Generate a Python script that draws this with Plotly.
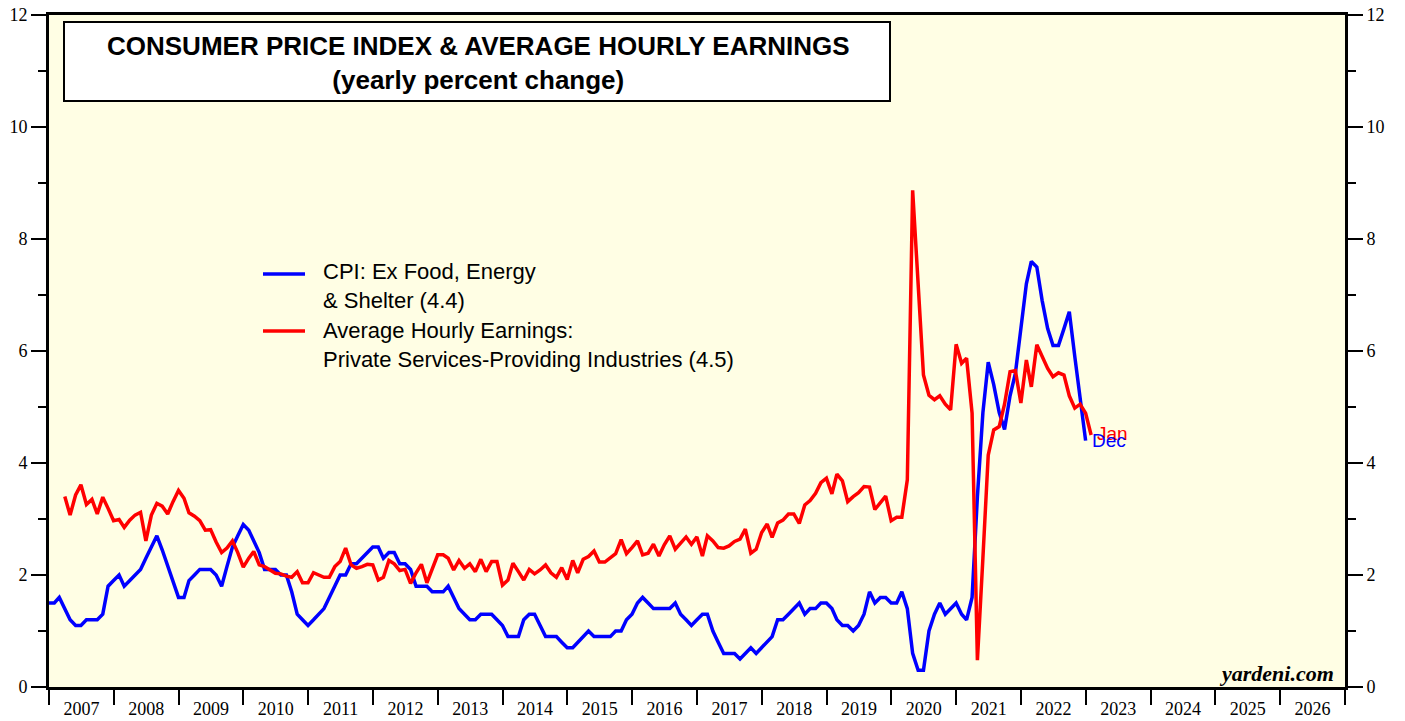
import pandas as pd
import plotly.graph_objects as go

# ---------------- data (yearly % change, monthly) ----------------
years = list(range(2007, 2027))

cpi_first_month = "2006-12"   # CPI: Ex Food, Energy & Shelter
cpi_ex_fes = [
    1.5, 1.5, 1.6, 1.4, 1.2, 1.1, 1.1, 1.2, 1.2, 1.2, 1.3, 1.8,
    1.9, 2.0, 1.8, 1.9, 2.0, 2.1, 2.3, 2.5, 2.7, 2.45, 2.15, 1.88,
    1.6, 1.6, 1.9, 2.0, 2.1, 2.1, 2.1, 2.0, 1.8, 2.15, 2.5, 2.7,
    2.9, 2.8, 2.6, 2.4, 2.1, 2.1, 2.1, 2.0, 2.0, 1.7, 1.3, 1.2,
    1.1, 1.2, 1.3, 1.4, 1.6, 1.8, 2.0, 2.0, 2.2, 2.2, 2.3, 2.4,
    2.5, 2.5, 2.3, 2.4, 2.4, 2.2, 2.2, 2.1, 1.8, 1.8, 1.8, 1.7,
    1.7, 1.7, 1.8, 1.6, 1.4, 1.3, 1.2, 1.2, 1.3, 1.3, 1.3, 1.2,
    1.1, 0.9, 0.9, 0.9, 1.2, 1.3, 1.3, 1.1, 0.9, 0.9, 0.9, 0.8,
    0.7, 0.7, 0.8, 0.9, 1.0, 0.9, 0.9, 0.9, 0.9, 1.0, 1.0, 1.2,
    1.3, 1.5, 1.6, 1.5, 1.4, 1.4, 1.4, 1.4, 1.5, 1.3, 1.2, 1.1,
    1.2, 1.3, 1.3, 1.0, 0.8, 0.6, 0.6, 0.6, 0.5, 0.6, 0.7, 0.6,
    0.7, 0.8, 0.9, 1.2, 1.2, 1.3, 1.4, 1.5, 1.3, 1.4, 1.4, 1.5,
    1.5, 1.4, 1.2, 1.1, 1.1, 1.0, 1.1, 1.3, 1.7, 1.5, 1.6, 1.6,
    1.5, 1.5, 1.7, 1.4, 0.6, 0.3, 0.3, 1.0, 1.3, 1.5, 1.3, 1.4,
    1.5, 1.3, 1.2, 1.6, 3.4, 4.9, 5.8, 5.4, 4.9, 4.6, 5.2, 5.6,
    6.4, 7.2, 7.6, 7.5, 6.9, 6.4, 6.1, 6.1, 6.4, 6.7, 5.9, 5.1,
    4.4,
]

ahe_first_month = "2007-03"   # Average Hourly Earnings: Private Services-Providing
ahe_services = [
    3.40, 3.07, 3.43, 3.61, 3.26, 3.35, 3.09, 3.39, 3.19,
    2.97, 2.99, 2.85, 2.98, 3.07, 3.12, 2.61, 3.07, 3.28, 3.23, 3.09, 3.31,
    3.51, 3.37, 3.11, 3.05, 2.97, 2.80, 2.81, 2.59, 2.40, 2.48, 2.61, 2.40,
    2.14, 2.30, 2.42, 2.18, 2.15, 2.09, 2.03, 2.02, 1.98, 1.96, 2.06, 1.86,
    1.86, 2.04, 2.00, 1.96, 1.96, 2.15, 2.24, 2.48, 2.18, 2.12, 2.15, 2.19,
    2.18, 1.91, 1.96, 2.26, 2.20, 2.08, 2.10, 1.85, 2.04, 2.19, 1.86, 2.09,
    2.36, 2.36, 2.30, 2.09, 2.26, 2.12, 2.20, 2.06, 2.28, 2.06, 2.24, 2.24,
    1.82, 1.91, 2.21, 2.06, 1.91, 2.10, 2.02, 2.09, 2.18, 2.04, 1.96, 2.13,
    1.92, 2.26, 2.04, 2.28, 2.33, 2.43, 2.23, 2.23, 2.30, 2.38, 2.63, 2.38,
    2.49, 2.61, 2.36, 2.39, 2.55, 2.34, 2.54, 2.70, 2.46, 2.58, 2.68, 2.55,
    2.68, 2.34, 2.70, 2.61, 2.49, 2.48, 2.52, 2.60, 2.64, 2.82, 2.39, 2.46,
    2.76, 2.91, 2.67, 2.93, 2.98, 3.09, 3.09, 2.92, 3.25, 3.33, 3.46, 3.65,
    3.73, 3.45, 3.80, 3.68, 3.31, 3.40, 3.47, 3.58, 3.57, 3.17, 3.29, 3.41,
    2.97, 3.03, 3.03, 3.70, 8.87, 7.09, 5.57, 5.21, 5.13, 5.20, 5.05, 4.95,
    6.12, 5.78, 5.87, 4.89, 0.48, 2.30, 4.14, 4.59, 4.65, 5.05, 5.63, 5.65,
    5.07, 5.84, 5.36, 6.11, 5.90, 5.69, 5.54, 5.61, 5.57, 5.20, 4.98, 5.05,
    4.89, 4.50,
]

cpi_last_label = "Dec"
ahe_last_label = "Jan"
legend_cpi = ["CPI: Ex Food, Energy", "& Shelter (4.4)"]
legend_ahe = ["Average Hourly Earnings:", "Private Services-Providing Industries (4.5)"]
title_lines = ["CONSUMER PRICE INDEX & AVERAGE HOURLY EARNINGS", "(yearly percent change)"]


def month_end_dates(first, n):
    # monthly observations plotted at the end of their month
    start = pd.Period(first, freq="M").to_timestamp() + pd.offsets.MonthBegin(1)
    return pd.date_range(start, periods=n, freq="MS") - pd.Timedelta(days=1)


cpi_dates = month_end_dates(cpi_first_month, len(cpi_ex_fes))
ahe_dates = month_end_dates(ahe_first_month, len(ahe_services))

# ---------------- layout geometry ----------------
W, H = 1405, 721
ML, MR, MT, MB = 49, 60, 15, 34
PW, PH = W - ML - MR, H - MT - MB


def px(x):
    return (x - ML) / PW


def py(y):
    return (H - MB - y) / PH


BLUE = "#0000FF"
RED = "#FF0000"
SANS = "Liberation Sans, Arial, Helvetica, sans-serif"
SERIF = "Liberation Serif, Times New Roman, serif"

fig = go.Figure()
fig.add_trace(go.Scatter(x=cpi_dates, y=cpi_ex_fes, mode="lines",
                         line=dict(color=BLUE, width=3.5), showlegend=False))
fig.add_trace(go.Scatter(x=ahe_dates, y=ahe_services, mode="lines",
                         line=dict(color=RED, width=3.5), showlegend=False))
# right-hand axis carries the same scale
fig.add_trace(go.Scatter(x=[cpi_dates[0]], y=[None], yaxis="y2", mode="lines",
                         showlegend=False, hoverinfo="skip"))

x0 = pd.Timestamp(f"{years[0]}-01-01")
x1 = pd.Timestamp(f"{years[-1] + 1}-01-01")

yaxis_common = dict(
    range=[0, 12], tick0=0, dtick=2,
    ticks="outside", ticklen=15, tickwidth=2, tickcolor="black",
    minor=dict(dtick=1, ticks="outside", ticklen=8, tickwidth=2, tickcolor="black"),
    showline=True, linewidth=3, linecolor="black",
    showgrid=False, zeroline=False, automargin=False,
    tickfont=dict(family=SERIF, size=18, color="black"),
)

fig.update_layout(
    width=W, height=H,
    margin=dict(l=ML, r=MR, t=MT, b=MB, pad=0, autoexpand=False),
    paper_bgcolor="white",
    plot_bgcolor="#FFFEE4",
    showlegend=False,
    xaxis=dict(
        type="date", range=[x0, x1],
        tick0=x0, dtick="M12", tickformat="%Y", ticklabelmode="period",
        ticks="outside", ticklen=15, tickwidth=2, tickcolor="black",
        ticklabelstandoff=-12,
        showline=True, linewidth=3, linecolor="black", mirror=True,
        showgrid=False, zeroline=False, automargin=False,
        tickfont=dict(family=SERIF, size=18, color="black"),
    ),
    yaxis=yaxis_common,
    yaxis2=dict(yaxis_common, overlaying="y", side="right"),
)

shapes = []
annotations = []

# title box
shapes.append(dict(type="rect", xref="paper", yref="paper",
                   x0=px(64), x1=px(890), y0=py(101), y1=py(22),
                   fillcolor="white", line=dict(color="black", width=2), layer="above"))
annotations.append(dict(xref="paper", yref="paper", x=px(478), y=py(62.5),
                        xanchor="center", yanchor="middle", showarrow=False,
                        text="<br>".join(f"<b>{t}</b>" for t in title_lines),
                        font=dict(family=SANS, size=26, color="black")))

# legend
for color, yl in [(BLUE, 274), (RED, 331)]:
    shapes.append(dict(type="line", xref="paper", yref="paper",
                       x0=px(263), x1=px(305), y0=py(yl), y1=py(yl),
                       line=dict(color=color, width=3.5)))
for lines, yc in [(legend_cpi, 286.5), (legend_ahe, 344.5)]:
    annotations.append(dict(xref="paper", yref="paper", x=px(321), y=py(yc),
                            xanchor="left", yanchor="middle", showarrow=False,
                            align="left", text="<br>".join(lines),
                            font=dict(family=SANS, size=22, color="black")))

# end-of-series month labels
annotations.append(dict(x=ahe_dates[-1], y=ahe_services[-1], xref="x", yref="y",
                        xanchor="left", yanchor="middle", xshift=4, yshift=2,
                        showarrow=False, text=ahe_last_label,
                        font=dict(family=SANS, size=19, color=RED)))
annotations.append(dict(x=cpi_dates[-1], y=cpi_ex_fes[-1], xref="x", yref="y",
                        xanchor="left", yanchor="middle", xshift=4, yshift=0,
                        showarrow=False, text=cpi_last_label,
                        font=dict(family=SANS, size=19, color=BLUE)))

# source
annotations.append(dict(xref="paper", yref="paper", x=px(1336), y=py(673),
                        xanchor="right", yanchor="middle", showarrow=False,
                        text="<b><i>yardeni.com</i></b>",
                        font=dict(family=SERIF, size=22, color="black")))

fig.update_layout(shapes=shapes, annotations=annotations)
fig.write_html(
    "out.html",
    config={"displayModeBar": False},
    post_script="document.body.style.margin='0px';document.body.style.padding='0px';"
                "document.body.style.overflow='hidden';",
)
